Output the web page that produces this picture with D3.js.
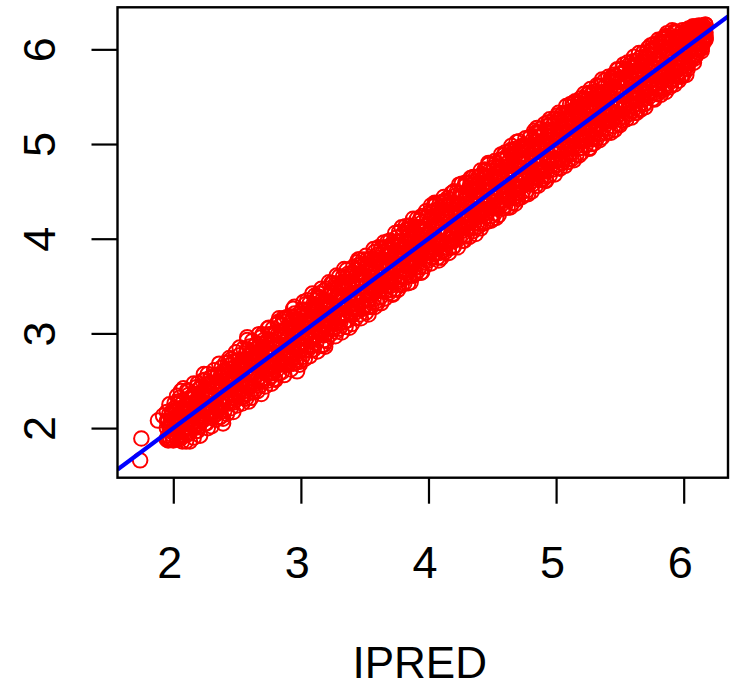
<!DOCTYPE html>
<html>
<head>
<meta charset="utf-8">
<script src="https://cdn.jsdelivr.net/npm/d3@7"></script>
<style>
  html, body { margin: 0; padding: 0; background: #fff; }
  svg { display: block; }
</style>
</head>
<body>
<svg id="chart" width="731" height="688"></svg>
<script>
// Observed concentration (DV) against individual prediction (IPRED), both in hundredths.
const ipredCenti = [
  174,175,188,192,206,239,258,297,282,318,346,372,405,428,447,465,484,492,513,526,548,563,586,598,608,
  195,195,196,196,197,197,198,198,199,199, 200,201,201,201,202,203,203,204,204,204,
  205,205,205,206,207,207,208,209,209,209, 210,211,211,212,212,212,213,213,214,214,
  215,215,216,217,217,218,218,218,219,219, 220,220,221,221,222,222,223,223,224,224,
  225,226,226,226,227,228,228,229,229,229, 230,230,230,231,232,232,233,234,234,234,
  235,236,236,237,237,237,238,238,239,239, 240,240,241,242,242,243,243,243,244,244,
  245,245,246,246,247,247,248,248,249,249, 250,251,251,251,252,253,253,254,254,254,
  255,255,255,256,257,257,258,259,259,259, 260,261,261,262,262,262,263,263,264,264,
  265,265,266,267,267,268,268,268,269,269, 270,270,271,271,272,272,273,273,274,274,
  275,276,276,276,277,278,278,279,279,279, 280,280,280,281,282,282,283,284,284,284,
  285,286,286,287,287,287,288,288,289,289, 290,290,291,292,292,293,293,293,294,294,
  295,295,296,296,297,297,298,298,299,299, 300,301,301,301,302,303,303,304,304,304,
  305,305,305,306,307,307,308,309,309,309, 310,311,311,312,312,312,313,313,314,314,
  315,315,316,317,317,318,318,318,319,319, 320,320,321,321,322,322,323,323,324,324,
  325,326,326,326,327,328,328,329,329,329, 330,330,330,331,332,332,333,334,334,334,
  335,336,336,337,337,337,338,338,339,339, 340,340,341,342,342,343,343,343,344,344,
  345,345,346,346,347,347,348,348,349,349, 350,351,351,351,352,353,353,354,354,354,
  355,355,355,356,357,357,358,359,359,359, 360,361,361,362,362,362,363,363,364,364,
  365,365,366,367,367,368,368,368,369,369, 370,370,371,371,372,372,373,373,374,374,
  375,376,376,376,377,378,378,379,379,379, 380,380,380,381,382,382,383,384,384,384,
  385,386,386,387,387,387,388,388,389,389, 390,390,391,392,392,393,393,393,394,394,
  395,395,396,396,397,397,398,398,399,399, 400,401,401,401,402,403,403,404,404,404,
  405,405,405,406,407,407,408,409,409,409, 410,411,411,412,412,412,413,413,414,414,
  415,415,416,417,417,418,418,418,419,419, 420,420,421,421,422,422,423,423,424,424,
  425,426,426,426,427,428,428,429,429,429, 430,430,430,431,432,432,433,434,434,434,
  435,436,436,437,437,437,438,438,439,439, 440,440,441,442,442,443,443,443,444,444,
  445,445,446,446,447,447,448,448,449,449, 450,451,451,451,452,453,453,454,454,454,
  455,455,455,456,457,457,458,459,459,459, 460,461,461,462,462,462,463,463,464,464,
  465,465,466,467,467,468,468,468,469,469, 470,470,471,471,472,472,473,473,474,474,
  475,476,476,476,477,478,478,479,479,479, 480,480,480,481,482,482,483,484,484,484,
  485,486,486,487,487,487,488,488,489,489, 490,490,491,492,492,493,493,493,494,494,
  495,495,496,496,497,497,498,498,499,499, 500,501,501,501,502,503,503,504,504,504,
  505,505,505,506,507,507,508,509,509,509, 510,511,511,512,512,512,513,513,514,514,
  515,515,516,517,517,518,518,518,519,519, 520,520,521,521,522,522,523,523,524,524,
  525,526,526,526,527,528,528,529,529,529, 530,530,530,531,532,532,533,534,534,534,
  535,536,536,537,537,537,538,538,539,539, 540,540,541,542,542,543,543,543,544,544,
  545,545,546,546,547,547,548,548,549,549, 550,551,551,551,552,553,553,554,554,554,
  555,555,555,556,557,557,558,559,559,559, 560,561,561,562,562,562,563,563,564,564,
  565,565,566,567,567,568,568,568,569,569, 570,570,571,571,572,572,573,573,574,574,
  575,576,576,576,577,578,578,579,579,579, 580,580,580,581,582,582,583,584,584,584,
  585,586,586,587,587,587,588,588,589,589, 590,590,591,592,592,593,593,593,594,594,
  595,595,596,596,597,597,598,598,599,599, 600,601,601,601,602,603,603,604,604,604,
  605,605,605,606,607,607,608,609,609,609, 610,611,611,612,612,612,613,613,614,614,
  615,615,615,616,616,616,617,617,617,617,
  195,195,195,196,197,197,198,199,199,199, 200,201,201,202,202,202,203,203,204,204,
  205,205,206,207,207,208,208,208,209,209, 210,210,211,211,212,212,213,213,214,214,
  215,216,216,216,217,218,218,219,219,219, 220,220,220,221,222,222,223,224,224,224,
  225,226,226,227,227,227,228,228,229,229, 230,230,231,232,232,233,233,233,234,234,
  235,235,236,236,237,237,238,238,239,239, 240,241,241,241,242,243,243,244,244,244,
  245,245,245,246,247,247,248,249,249,249, 250,251,251,252,252,252,253,253,254,254,
  255,255,256,257,257,258,258,258,259,259, 260,260,261,261,262,262,263,263,264,264,
  265,266,266,266,267,268,268,269,269,269, 270,270,270,271,272,272,273,274,274,274,
  275,276,276,277,277,277,278,278,279,279, 280,280,281,282,282,283,283,283,284,284,
  285,285,286,286,287,287,288,288,289,289, 290,291,291,291,292,293,293,294,294,294,
  295,295,295,296,297,297,298,299,299,299, 300,301,301,302,302,302,303,303,304,304,
  305,305,306,307,307,308,308,308,309,309, 310,310,311,311,312,312,313,313,314,314,
  315,316,316,316,317,318,318,319,319,319, 320,320,320,321,322,322,323,324,324,324,
  325,326,326,327,327,327,328,328,329,329, 330,330,331,332,332,333,333,333,334,334,
  335,335,336,336,337,337,338,338,339,339, 340,341,341,341,342,343,343,344,344,344,
  345,345,345,346,347,347,348,349,349,349, 350,351,351,352,352,352,353,353,354,354,
  355,355,356,357,357,358,358,358,359,359, 360,360,361,361,362,362,363,363,364,364,
  365,366,366,366,367,368,368,369,369,369, 370,370,370,371,372,372,373,374,374,374,
  375,376,376,377,377,377,378,378,379,379, 380,380,381,382,382,383,383,383,384,384,
  385,385,386,386,387,387,388,388,389,389, 390,391,391,391,392,393,393,394,394,394,
  395,395,395,396,397,397,398,399,399,399, 400,401,401,402,402,402,403,403,404,404,
  405,405,406,407,407,408,408,408,409,409, 410,410,411,411,412,412,413,413,414,414,
  415,416,416,416,417,418,418,419,419,419, 420,420,420,421,422,422,423,424,424,424,
  425,426,426,427,427,427,428,428,429,429, 430,430,431,432,432,433,433,433,434,434,
  435,435,436,436,437,437,438,438,439,439, 440,441,441,441,442,443,443,444,444,444,
  445,445,445,446,447,447,448,449,449,449, 450,451,451,452,452,452,453,453,454,454,
  455,455,456,457,457,458,458,458,459,459, 460,460,461,461,462,462,463,463,464,464,
  465,466,466,466,467,468,468,469,469,469, 470,470,470,471,472,472,473,474,474,474,
  475,476,476,477,477,477,478,478,479,479, 480,480,481,482,482,483,483,483,484,484,
  485,485,486,486,487,487,488,488,489,489, 490,491,491,491,492,493,493,494,494,494,
  495,495,495,496,497,497,498,499,499,499, 500,501,501,502,502,502,503,503,504,504,
  505,505,506,507,507,508,508,508,509,509, 510,510,511,511,512,512,513,513,514,514,
  515,516,516,516,517,518,518,519,519,519, 520,520,520,521,522,522,523,524,524,524,
  525,526,526,527,527,527,528,528,529,529, 530,530,531,532,532,533,533,533,534,534,
  535,535,536,536,537,537,538,538,539,539, 540,541,541,541,542,543,543,544,544,544,
  545,545,545,546,547,547,548,549,549,549, 550,551,551,552,552,552,553,553,554,554,
  555,555,556,557,557,558,558,558,559,559, 560,560,561,561,562,562,563,563,564,564,
  565,566,566,566,567,568,568,569,569,569, 570,570,570,571,572,572,573,574,574,574,
  575,576,576,577,577,577,578,578,579,579, 580,580,581,582,582,583,583,583,584,584,
  585,585,586,586,587,587,588,588,589,589, 590,591,591,591,592,593,593,594,594,594,
  595,595,595,596,597,597,598,599,599,599, 600,601,601,602,602,602,603,603,604,604,
  605,605,606,607,607,608,608,608,609,609, 610,610,611,611,612,612,613,613,614,614,
  615,615,616,616,617,617,615,616,617,614
];
const dvCenti = [
  166,189,208,213,239,205,296,260,312,288,378,342,438,398,478,498,512,462,543,496,578,533,614,571,586,
  200,188,208,192,215,188,200,208,193,214, 189,204,221,198,210,190,217,205,196,228,
  211,190,221,204,216,197,229,204,221,192, 212,199,224,239,206,219,195,217,205,231,
  212,226,202,223,236,210,219,197,228,218, 234,211,225,205,244,220,231,211,240,219,
  205,233,222,239,216,231,246,222,239,215, 235,224,254,218,243,230,214,249,235,225,
  244,220,238,254,232,212,244,227,260,242, 232,252,240,227,250,269,237,247,226,257,
  246,235,262,242,254,227,259,235,254,271, 243,265,235,254,261,251,242,272,249,260,
  265,252,233,271,248,261,283,245,267,258, 248,267,280,256,264,245,275,260,273,240,
  269,256,280,266,253,276,289,261,270,280, 265,286,253,273,282,261,279,271,266,293,
  283,263,279,299,271,291,258,284,269,280, 278,291,265,288,274,299,285,272,298,280,
  298,279,287,268,296,315,285,274,295,305, 280,294,306,287,276,303,292,313,286,301,
  298,283,305,272,314,293,310,289,300,282, 318,298,307,287,313,296,325,306,294,313,
  299,319,287,310,296,315,309,325,304,288, 317,302,330,310,324,297,317,339,302,315,
  301,320,313,332,309,328,298,321,331,313, 329,319,305,334,326,312,343,318,311,331,
  317,342,328,307,335,324,339,317,352,328, 342,319,335,328,350,317,340,327,335,348,
  331,345,314,340,352,328,337,348,323,360, 346,327,354,336,343,367,325,351,341,355,
  334,349,363,344,333,357,350,340,362,329, 358,345,352,370,342,365,328,359,351,369,
  354,368,340,362,350,378,346,362,369,354, 376,352,363,345,371,359,390,350,369,356,
  361,376,347,374,366,383,358,372,354,389, 373,358,385,365,394,370,381,357,375,386,
  366,382,355,393,373,388,379,368,397,372, 391,377,385,367,397,374,364,386,409,373,
  379,395,374,390,400,370,395,386,408,380, 391,375,403,387,412,383,399,370,408,393,
  387,410,393,404,379,399,409,385,423,393, 405,391,419,400,387,412,397,417,405,384,
  419,401,412,394,428,399,411,393,419,407, 397,413,427,405,421,391,418,440,404,426,
  422,410,399,429,418,407,437,415,427,405, 418,437,412,425,400,433,417,437,426,412,
  435,412,429,446,419,434,412,442,428,437, 425,442,411,432,448,422,440,431,457,421,
  439,428,450,422,446,435,457,427,445,413, 430,448,440,457,428,446,465,436,455,440,
  458,439,451,428,457,435,449,465,440,456, 435,453,472,446,464,444,459,434,468,453,
  463,444,471,453,441,466,484,452,462,446, 456,472,448,467,480,454,464,444,477,462,
  480,458,470,455,476,444,488,467,475,454, 461,473,455,483,468,489,462,480,497,468,
  481,462,486,475,496,470,481,458,492,476, 468,489,476,497,465,484,495,477,483,511,
  487,477,500,473,494,484,508,477,494,471, 501,485,471,500,491,509,483,497,480,515,
  488,508,497,483,515,493,505,482,510,497, 504,484,511,495,526,492,505,519,496,510,
  502,517,483,511,498,524,507,518,495,512, 524,503,513,496,522,533,508,519,502,530,
  505,521,514,530,498,527,511,519,538,506, 528,507,537,518,527,513,548,506,526,535,
  520,536,511,529,541,521,535,507,547,528, 542,528,535,520,552,518,527,543,516,537,
  527,551,535,545,524,559,534,550,530,540, 545,524,552,535,559,542,532,569,547,524,
  534,547,560,541,555,532,567,545,560,541, 566,541,554,532,561,554,546,567,540,576,
  551,567,542,562,532,572,556,567,550,577, 569,555,581,548,563,574,554,568,547,578,
  552,572,563,584,559,578,547,570,582,564, 573,560,586,553,578,570,594,561,583,568,
  568,587,561,580,594,569,579,559,591,603, 588,576,564,594,572,587,602,577,586,571,
  583,600,575,594,568,597,591,580,605,575, 602,584,594,577,612,590,601,582,608,572,
  586,601,613,584,599,592,609,581,620,603, 605,587,610,598,617,595,583,616,599,622,
  599,618,594,610,624,592,616,607,620,600, 620,607,624,600,615,623,606,620,598,621,
  621,612,625,613,620,614,626,611,618,610,
  217,189,208,187,225,201,188,217,208,196, 187,226,210,194,219,201,234,188,226,209,
  232,188,212,186,226,219,200,242,195,211, 186,225,240,206,194,235,221,186,233,203,
  232,190,247,220,201,243,211,231,197,247, 201,241,227,192,236,213,250,209,257,220,
  251,205,238,216,257,200,233,247,212,253, 202,246,224,261,214,256,243,209,254,221,
  256,220,268,211,246,217,264,232,256,210, 218,269,231,260,215,257,227,274,240,266,
  263,221,272,233,270,217,260,230,280,241, 224,271,234,285,243,277,232,268,226,264,
  284,236,267,231,279,246,293,236,276,228, 244,286,232,274,292,241,271,238,287,254,
  289,239,284,252,299,245,282,236,296,251, 249,299,259,293,244,289,257,305,250,284,
  306,258,299,247,289,255,305,269,298,252, 251,301,261,310,270,316,258,297,267,308,
  303,259,316,269,312,256,299,267,317,277, 267,318,277,311,262,309,274,326,268,317,
  321,275,328,269,312,283,320,270,318,267, 282,325,275,333,291,321,273,317,331,283,
  335,282,324,276,332,292,320,282,342,296, 283,331,296,340,290,328,281,337,304,342,
  338,287,347,298,336,293,345,307,286,334, 300,347,292,339,307,354,299,345,313,353,
  353,305,340,297,352,310,361,302,348,317, 305,360,312,354,301,350,320,360,312,368,
  355,307,367,320,363,314,351,306,362,320, 310,363,320,370,328,368,316,362,335,375,
  372,326,378,320,363,316,371,335,378,326, 328,382,322,372,335,378,320,368,378,336,
  379,328,373,336,389,345,386,328,378,334, 332,383,345,391,338,380,332,389,352,385,
  396,344,391,337,381,350,397,343,391,355, 346,398,350,388,341,396,358,406,347,393,
  401,346,397,360,407,352,393,357,412,351, 361,405,353,413,359,401,371,410,353,406,
  414,361,405,354,412,372,421,361,403,369, 363,412,373,421,367,419,379,411,364,422,
  417,365,424,375,413,371,429,382,423,387, 377,428,385,435,374,422,381,428,391,434,
  430,384,437,380,425,377,431,393,438,385, 380,429,387,439,395,444,386,435,395,440,
  443,390,436,385,441,404,448,397,436,391, 399,450,392,445,409,449,391,443,400,457,
  448,404,458,398,446,409,455,403,459,415, 404,459,411,454,402,459,418,464,411,452,
  465,408,460,417,465,405,455,416,465,423, 416,467,411,472,424,464,416,473,431,467,
  472,423,464,418,480,430,472,419,463,424, 421,475,432,482,427,469,422,480,475,432,
  476,425,483,436,489,432,473,440,488,432, 435,491,445,484,433,488,443,481,433,492,
  494,443,488,438,484,437,495,453,502,449, 442,493,448,503,455,497,444,494,450,490,
  499,447,506,457,498,451,494,447,506,465, 460,508,450,505,458,514,468,502,456,508,
  517,464,511,456,507,470,516,462,503,466, 463,513,473,521,461,519,471,512,480,523,
  520,467,526,477,519,473,515,468,527,484, 478,530,475,525,484,533,474,523,530,480,
  532,480,526,477,531,489,540,486,526,481, 484,534,490,542,484,531,497,540,483,536,
  545,489,539,498,543,488,538,496,548,504, 496,546,491,542,506,553,498,546,504,552,
  547,495,554,505,558,509,553,500,548,505, 501,555,512,562,506,554,519,561,504,552,
  561,511,568,507,555,517,567,523,562,512, 517,571,513,562,525,570,512,567,532,570,
  573,519,566,515,572,528,579,526,565,521, 520,574,529,580,525,570,537,584,578,529,
  579,526,586,536,574,532,585,544,581,528, 535,587,541,592,533,584,546,588,537,583,
  596,542,591,536,587,547,596,542,587,553, 543,592,539,597,553,601,550,598,559,604,
  600,548,605,554,598,547,595,559,606,553, 558,610,556,606,552,602,566,611,557,607,
  612,559,608,555,617,569,613,564,609,560, 562,612,568,620,572,619,563,612,577,618,
  613,571,618,567,611,576,617,572,615,583, 574,617,580,620,573,616,579,621,586,619,
  619,588,622,592,620,590,624,594,622,593, 594,624,597,623,600,625,603,624,601,624,
  606,622,609,624,612,626,608,619,615,601
];
const xTicks = [2, 3, 4, 5, 6];
const yTicks = [2, 3, 4, 5, 6];
const xTitle = "IPRED";

const ipred = ipredCenti.map(v => v / 100);
const dv = dvCenti.map(v => v / 100);

const FONT = "'Liberation Sans', Arial, Helvetica, sans-serif";
const plot = { left: 117.5, right: 728, top: 7.3, bottom: 477.7 };

// Axis ranges extend the data range by 4% on each side.
function padded(ext) {
  const d = (ext[1] - ext[0]) * 0.04;
  return [ext[0] - d, ext[1] + d];
}

const x = d3.scaleLinear().domain(padded(d3.extent(ipred))).range([plot.left, plot.right]);
const y = d3.scaleLinear().domain(padded(d3.extent(dv))).range([plot.bottom, plot.top]);

const svg = d3.select("#chart");

svg.append("defs").append("clipPath").attr("id", "plot-clip")
  .append("rect")
  .attr("x", plot.left).attr("y", plot.top)
  .attr("width", plot.right - plot.left).attr("height", plot.bottom - plot.top);

const inner = svg.append("g").attr("clip-path", "url(#plot-clip)");

// Observations as open circles
inner.append("g")
  .selectAll("circle")
  .data(d3.range(ipred.length))
  .join("circle")
  .attr("cx", i => x(ipred[i]))
  .attr("cy", i => y(dv[i]))
  .attr("r", 7.3)
  .attr("fill", "none")
  .attr("stroke", "#ff0000")
  .attr("stroke-width", 2);

// Line of identity across the full x range
const xd = x.domain();
inner.append("line")
  .attr("x1", x(xd[0])).attr("y1", y(xd[0]))
  .attr("x2", x(xd[1])).attr("y2", y(xd[1]))
  .attr("stroke", "#0000ff")
  .attr("stroke-width", 4.2);

// Plot frame
svg.append("rect")
  .attr("x", plot.left).attr("y", plot.top)
  .attr("width", plot.right - plot.left).attr("height", plot.bottom - plot.top)
  .attr("fill", "none").attr("stroke", "#000").attr("stroke-width", 2.4);

// Bottom axis
const gx = svg.append("g")
  .attr("transform", `translate(0,${plot.bottom})`)
  .call(d3.axisBottom(x).tickValues(xTicks).tickSize(26).tickFormat(d3.format("d")));
gx.select(".domain").remove();
gx.selectAll(".tick line").attr("stroke", "#000").attr("stroke-width", 2.2);
gx.selectAll(".tick text")
  .attr("dy", null).attr("y", 100.3).attr("dx", -4)
  .attr("fill", "#000")
  .style("font-family", FONT).style("font-size", "45px");

// Left axis with labels turned to read upward
const gy = svg.append("g")
  .attr("transform", `translate(${plot.left},0)`)
  .call(d3.axisLeft(y).tickValues(yTicks).tickSize(26).tickFormat(d3.format("d")));
gy.select(".domain").remove();
gy.selectAll(".tick line").attr("stroke", "#000").attr("stroke-width", 2.2);
gy.selectAll(".tick text")
  .attr("dy", null).attr("x", null)
  .attr("text-anchor", "middle")
  .attr("transform", `translate(${55 - plot.left},0) rotate(-90)`)
  .attr("fill", "#000")
  .style("font-family", FONT).style("font-size", "45px");

// Axis title
svg.append("text")
  .attr("x", (plot.left + plot.right) / 2 - 3)
  .attr("y", 678)
  .attr("text-anchor", "middle")
  .attr("fill", "#000")
  .style("font-family", FONT).style("font-size", "44px")
  .text(xTitle);
</script>
</body>
</html>
